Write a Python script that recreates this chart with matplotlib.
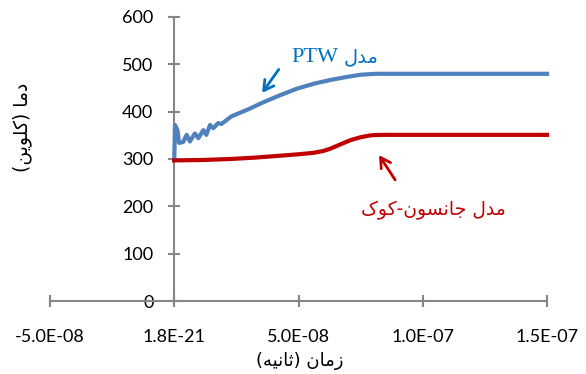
import re
import matplotlib
matplotlib.use('Agg')
import matplotlib.pyplot as plt
import numpy as np

# ---- data (time in units of 1e-8 s, temperature in K) ----
ptw_time = [0.0, 0.03, 0.13, 0.19, 0.36, 0.50, 0.63, 0.83, 0.97, 1.17, 1.29, 1.44, 1.57,
            1.77, 1.90, 2.30, 2.98, 3.59, 4.27, 4.96, 5.69, 6.29, 6.90, 7.50, 8.10,
            9.11, 15.0]
ptw_temp = [298, 372, 361, 334, 336, 351, 337, 354, 344, 361, 351, 372, 365,
            376, 374, 390, 405, 420, 435, 449, 460, 467, 473, 478, 480,
            480, 480]

jc_time = [0.0, 1.2, 2.26, 3.27, 4.27, 5.0, 5.6, 6.0, 6.29, 6.69, 7.10, 7.50, 7.90, 8.3, 15.0]
jc_temp = [297, 298, 300, 303, 307, 310, 313, 317, 322, 331, 340, 346, 350, 351, 351]

xtick_pos = [-5e-8, 0, 5e-8, 1e-7, 1.5e-7]
xtick_labels = ['-5.0E-08', '1.8E-21', '5.0E-08', '1.0E-07', '1.5E-07']
ytick_pos = [0, 100, 200, 300, 400, 500, 600]

# ---- minimal Arabic/Persian shaping (matplotlib has no bidi support) ----
# letter: (isolated, final, initial, medial)
FORMS = {
    'ا': (0xFE8D, 0xFE8E, None, None),
    'د': (0xFEA9, 0xFEAA, None, None),
    'ز': (0xFEAF, 0xFEB0, None, None),
    'و': (0xFEED, 0xFEEE, None, None),
    'م': (0xFEE1, 0xFEE2, 0xFEE3, 0xFEE4),
    'ل': (0xFEDD, 0xFEDE, 0xFEDF, 0xFEE0),
    'ن': (0xFEE5, 0xFEE6, 0xFEE7, 0xFEE8),
    'ث': (0xFE99, 0xFE9A, 0xFE9B, 0xFE9C),
    'ه': (0xFEE9, 0xFEEA, 0xFEEB, 0xFEEC),
    'ج': (0xFE9D, 0xFE9E, 0xFE9F, 0xFEA0),
    'س': (0xFEB1, 0xFEB2, 0xFEB3, 0xFEB4),
    'ی': (0xFBFC, 0xFBFD, 0xFBFE, 0xFBFF),
    'ک': (0xFB8E, 0xFB8F, 0xFB90, 0xFB91),
}
DUAL = {k for k, v in FORMS.items() if v[2] is not None}


def fa(text):
    out = []
    for i, ch in enumerate(text):
        if ch not in FORMS:
            out.append(ch)
            continue
        prev = text[i - 1] if i > 0 else ''
        nxt = text[i + 1] if i + 1 < len(text) else ''
        f = FORMS[ch]
        jp = prev in DUAL
        jn = ch in DUAL and nxt in FORMS
        if jp and jn:
            c = f[3]
        elif jp:
            c = f[1]
        elif jn:
            c = f[2]
        else:
            c = f[0]
        out.append(chr(c))
    s = ''.join(out)[::-1]
    s = s.translate(str.maketrans('()', ')('))
    s = re.sub(r'[A-Za-z0-9.]+', lambda m: m.group(0)[::-1], s)
    return s


# ---- figure ----
fig = plt.figure(figsize=(5.86, 3.74), dpi=100)
ax = fig.add_axes([50 / 586, 73 / 374, 497 / 586, 284 / 374])

t_ptw = np.array(ptw_time) * 1e-8
t_jc = np.array(jc_time) * 1e-8
ax.plot(t_ptw, ptw_temp, color='#4F81BD', lw=3, solid_joinstyle='round', clip_on=False, zorder=3)
ax.plot(t_jc, jc_temp, color='#C00000', lw=3, solid_joinstyle='round', clip_on=False, zorder=3)

ax.set_xlim(-5e-8, 1.5e-7)
ax.set_ylim(0, 600)

axis_grey = '#868686'
for side in ['top', 'right']:
    ax.spines[side].set_visible(False)
ax.spines['left'].set_position(('data', 0))
for side in ['left', 'bottom']:
    ax.spines[side].set_color(axis_grey)
    ax.spines[side].set_linewidth(1.5)

ax.set_xticks(xtick_pos)
ax.set_xticklabels(xtick_labels)
ax.set_yticks(ytick_pos)
ax.tick_params(axis='both', direction='inout', length=8, width=1.5, color=axis_grey,
               labelsize=13, labelcolor='black')
ax.tick_params(axis='x', pad=16)
ax.tick_params(axis='y', pad=11)
for lab in ax.get_xticklabels() + ax.get_yticklabels():
    lab.set_fontfamily('Lato')

# axis titles
fig.text(300 / 586, 1 - 361 / 374, fa('زمان (ثانیه)'), ha='center', va='center',
         fontsize=13, family='DejaVu Sans')
fig.text(22 / 586, 1 - 127 / 374, fa('دما (کلوین)'), ha='center', va='center',
         rotation=90, fontsize=13.5, family='DejaVu Sans')

# annotations
ax.annotate('', xy=(3.47e-8, 435), xytext=(4.27e-8, 494),
            arrowprops=dict(arrowstyle='->,head_length=0.7,head_width=0.4',
                            color='#0070C0', lw=2))
# "مدل PTW": latin part in serif, Persian part to its right
ax.text(6.61e-8, 505, 'PTW', color='#0070C0', ha='right', va='baseline',
        fontsize=16, family='Liberation Serif')
ax.text(6.81e-8, 505, fa('مدل'), color='#0070C0', ha='left', va='baseline',
        fontsize=14, family='DejaVu Sans')

ax.annotate('', xy=(8.18e-8, 313), xytext=(8.95e-8, 251),
            arrowprops=dict(arrowstyle='->,head_length=0.7,head_width=0.4',
                            color='#C00000', lw=2))
ax.text(1.044e-7, 192, fa('مدل جانسون-کوک'), color='#C00000', ha='center', va='center',
        fontsize=13.5, family='DejaVu Sans')

plt.savefig('out.png', dpi=100)
